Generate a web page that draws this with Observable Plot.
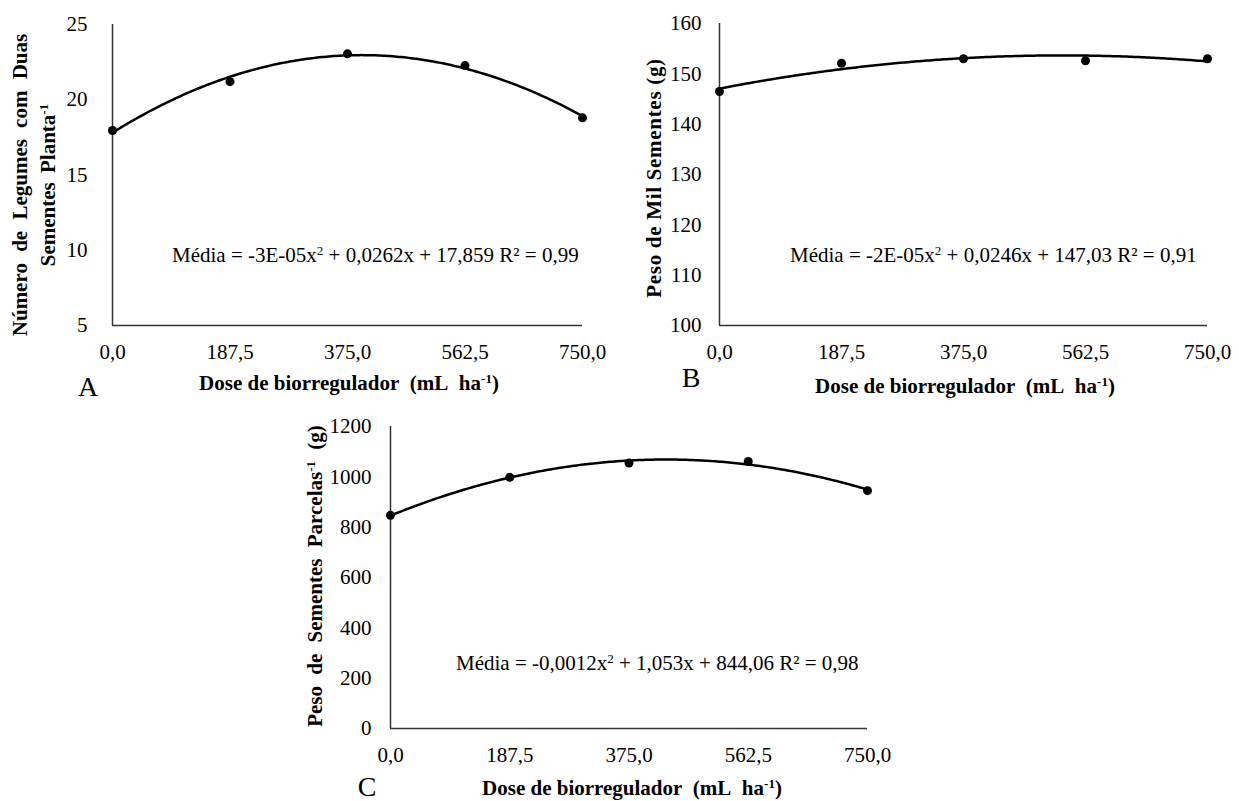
<!DOCTYPE html>
<html>
<head>
<meta charset="utf-8">
<script src="https://cdn.jsdelivr.net/npm/d3@7"></script>
<script src="https://cdn.jsdelivr.net/npm/@observablehq/plot@0.6"></script>
<style>
  html, body { margin: 0; padding: 0; background: #fff; }
  #wrap { position: relative; width: 1239px; height: 801px; overflow: hidden; background: #fff;
          font-family: "Liberation Serif", serif; color: #000; }
  #wrap svg, #wrap svg text { font-family: "Liberation Serif", serif !important; font-size: 21px; }
  .abs { position: absolute; white-space: nowrap; line-height: 1; font-family: "Liberation Serif", serif; }
  .c { transform: translate(-50%, -50%); }
  .rot { transform: translate(-50%, -50%) rotate(-90deg); }
  .b { font-weight: bold; font-size: 21px; }
  .eq { font-size: 21px; transform: translate(0, -50%); }
  .letter { font-size: 28px; }
  sup { font-size: 0.62em; vertical-align: 0; position: relative; top: -0.55em; }
  .svgbox { position: absolute; }
</style>
</head>
<body>
<div id="wrap"></div>
<script>
// ---- data ----
const doses = [0, 187.5, 375, 562.5, 750];
const legumesA = [17.96, 21.2, 23.05, 22.27, 18.8];
const pesoMilB = [146.5, 152.1, 153.0, 152.6, 153.0];
const pesoParcelaC = [847, 998, 1055, 1061, 945];
const xTicks = [0, 187.5, 375, 562.5, 750];
const yTicksA = [5, 10, 15, 20, 25];
const yTicksB = [100, 110, 120, 130, 140, 150, 160];
const yTicksC = [0, 200, 400, 600, 800, 1000, 1200];
const eqA = "Média = -3E-05x<sup>2</sup> + 0,0262x + 17,859 R² = 0,99";
const eqB = "Média = -2E-05x<sup>2</sup> + 0,0246x + 147,03 R² = 0,91";
const eqC = "Média = -0,0012x<sup>2</sup> + 1,053x + 844,06 R² = 0,98";

// least-squares quadratic fit (trend line of the data)
function quadFit(xs, ys) {
  const n = xs.length;
  let s = [0,0,0,0,0], t = [0,0,0];
  for (let i = 0; i < n; i++) {
    const x = xs[i], y = ys[i];
    for (let k = 0; k < 5; k++) s[k] += Math.pow(x, k);
    for (let k = 0; k < 3; k++) t[k] += Math.pow(x, k) * y;
  }
  const M = [[s[0], s[1], s[2], t[0]], [s[1], s[2], s[3], t[1]], [s[2], s[3], s[4], t[2]]];
  for (let i = 0; i < 3; i++) {
    let p = i;
    for (let r = i + 1; r < 3; r++) if (Math.abs(M[r][i]) > Math.abs(M[p][i])) p = r;
    [M[i], M[p]] = [M[p], M[i]];
    for (let r = 0; r < 3; r++) {
      if (r === i) continue;
      const f = M[r][i] / M[i][i];
      for (let k = i; k < 4; k++) M[r][k] -= f * M[i][k];
    }
  }
  const c = M[0][3] / M[0][0], b = M[1][3] / M[1][1], a = M[2][3] / M[2][2];
  return x => a * x * x + b * x + c;
}

function panel(ys, yDomain, yTicks, o) {
  const data = doses.map((d, i) => ({x: d, y: ys[i]}));
  const f = quadFit(doses, ys);
  const curve = d3.range(0, 750.001, 3.75).map(x => ({x, y: f(x)}));
  return Plot.plot({
    width: o.width, height: o.height,
    marginLeft: o.ml, marginRight: o.mr, marginTop: o.mt, marginBottom: o.mb,
    style: {fontFamily: "Liberation Serif", fontSize: "21px", color: "#000", background: "transparent", overflow: "visible"},
    x: {domain: [0, 750], ticks: xTicks, tickFormat: d => d.toFixed(1).replace(".", ","), tickSize: 0, tickPadding: 19, label: null},
    y: {domain: yDomain, ticks: yTicks, tickFormat: d => String(d), tickSize: 0, tickPadding: o.yPad, label: null},
    marks: [
      Plot.ruleX([0], {stroke: "#333", strokeWidth: 1.5}),
      Plot.ruleY([yDomain[0]], {stroke: "#333", strokeWidth: 1.5}),
      Plot.line(curve, {x: "x", y: "y", stroke: "#000", strokeWidth: 2.5}),
      Plot.dot(data, {x: "x", y: "y", r: 4.5, fill: "#000", stroke: "none"})
    ]
  });
}

const wrap = document.getElementById("wrap");
function place(el, left, top) {
  const d = document.createElement("div");
  d.className = "svgbox";
  d.style.left = left + "px"; d.style.top = top + "px";
  d.appendChild(el);
  wrap.appendChild(d);
}
function txt(html, cls, x, y, extra) {
  const d = document.createElement("div");
  d.className = "abs " + cls;
  d.style.left = x + "px"; d.style.top = y + "px";
  if (extra) Object.assign(d.style, extra);
  d.innerHTML = html;
  wrap.appendChild(d);
}

// Panel A: frame x 112..582, y 24..325
place(panel(legumesA, [5, 25], yTicksA, {width: 612, height: 370, ml: 112, mr: 30, mt: 24, mb: 45, yPad: 25}), 0, 0);
// Panel B: frame x 719..1207, y 23..325
place(panel(pesoMilB, [100, 160], yTicksB, {width: 637, height: 370, ml: 119, mr: 30, mt: 23, mb: 45, yPad: 18}), 600, 0);
// Panel C: frame x 390..867, y 426..728
place(panel(pesoParcelaC, [0, 1200], yTicksC, {width: 607, height: 370, ml: 100, mr: 30, mt: 26, mb: 42, yPad: 19}), 290, 400);

// Axis titles
const xTitle = "Dose de biorregulador&nbsp; (mL&nbsp; ha<sup>-1</sup>)";
txt(xTitle, "b c", 349, 383);
txt(xTitle, "b c", 965, 386);
txt(xTitle, "b c", 632, 788);

txt("Número de Legumes com Duas", "b rot", 20, 185, {wordSpacing: "6px"});
txt("Sementes Planta<sup>-1</sup>", "b rot", 48, 185, {wordSpacing: "4px"});
txt("Peso de Mil Sementes (g)", "b rot", 654, 178, {letterSpacing: "0.7px"});
txt("Peso de Sementes Parcelas<sup>-1</sup> (g)", "b rot", 315, 576, {wordSpacing: "6px"});

// Equations
txt(eqA, "eq", 172, 255);
txt(eqB, "eq", 790, 255);
txt(eqC, "eq", 456, 663);

// Panel letters
txt("A", "letter c", 88, 387);
txt("B", "letter c", 691, 378);
txt("C", "letter c", 367, 787);
</script>
</body>
</html>
